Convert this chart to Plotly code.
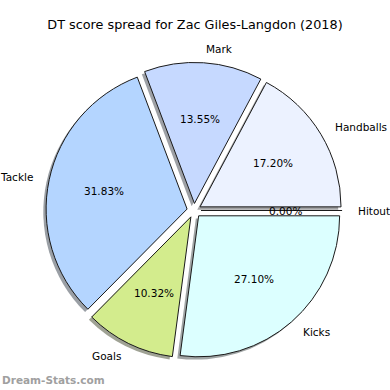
import math
import plotly.graph_objects as go

title = "DT score spread for Zac Giles-Langdon (2018)"
labels = ["Hitout", "Handballs", "Mark", "Tackle", "Goals", "Kicks"]
shares = [0.00, 17.20, 13.55, 31.83, 10.32, 27.10]
colors = ["#f0f8ff", "#ecf2ff", "#c6d9ff", "#b4d5ff", "#d3ec8d", "#dcffff"]
watermark = "Dream-Stats.com"

W = H = 390
CX, CY, R = 194.0, 210.5, 141.0
EXPLODE = 0.05
HALF = R * (1 + EXPLODE)
FONT = "DejaVu Sans"


def dom(cx, cy):
    return dict(x=[(cx - HALF) / W, (cx + HALF) / W],
                y=[1 - (cy + HALF) / H, 1 - (cy - HALF) / H])


def shadow_col(h):
    h = h.lstrip("#")
    r, g, b = (int(h[i:i + 2], 16) for i in (0, 2, 4))
    return f"rgba({int(r*0.3)},{int(g*0.3)},{int(b*0.3)},0.5)"


common = dict(labels=labels, values=shares, sort=False, direction="counterclockwise",
              rotation=90, pull=[EXPLODE] * len(shares), textinfo="none",
              hoverinfo="skip", showlegend=False)

fig = go.Figure()
fig.add_trace(go.Pie(**common, domain=dom(CX - 2.8, CY + 2.8),
                     marker=dict(colors=[shadow_col(c) for c in colors],
                                 line=dict(width=0))))
fig.add_trace(go.Pie(**common, domain=dom(CX, CY),
                     marker=dict(colors=colors, line=dict(color="#1a1a1a", width=1))))

annotations = []
total = sum(shares)
theta = 0.0
for lab, v in zip(labels, shares):
    th1 = theta + 360.0 * v / total
    mid = math.radians((theta + th1) / 2)
    c, s = math.cos(mid), math.sin(mid)
    x0 = CX + EXPLODE * R * c
    y0 = CY - EXPLODE * R * s
    lx, ly = x0 + 1.1 * R * c, y0 - 1.1 * R * s
    px, py = x0 + 0.6 * R * c, y0 - 0.6 * R * s
    annotations.append(dict(x=lx / W, y=1 - ly / H, xref="paper", yref="paper",
                            text=lab, showarrow=False,
                            xanchor="left" if c > 0 else "right", yanchor="middle",
                            font=dict(family=FONT, size=10.5, color="black")))
    annotations.append(dict(x=px / W, y=1 - py / H, xref="paper", yref="paper",
                            text=f"{v / total * 100:.2f}%", showarrow=False,
                            xanchor="center", yanchor="middle",
                            font=dict(family=FONT, size=10.5, color="black")))
    theta = th1

annotations.append(dict(x=0, y=1 - 380 / H, xref="paper", yref="paper", text=f"<b>{watermark}</b>",
                        showarrow=False, xanchor="left", yanchor="middle",
                        font=dict(family=FONT, size=10.5, color="#a0a0a0")))

fig.update_layout(
    width=W, height=H, margin=dict(l=0, r=0, t=0, b=0),
    paper_bgcolor="white", plot_bgcolor="white",
    title=dict(text=title, x=0.5, xanchor="center", y=1 - 25 / H, yanchor="middle",
               font=dict(family=FONT, size=12.8, color="black")),
    annotations=annotations,
)

fig.write_html("out.html", config={"displayModeBar": False},
               post_script="document.body.style.margin='0';document.body.style.overflow='hidden';")
